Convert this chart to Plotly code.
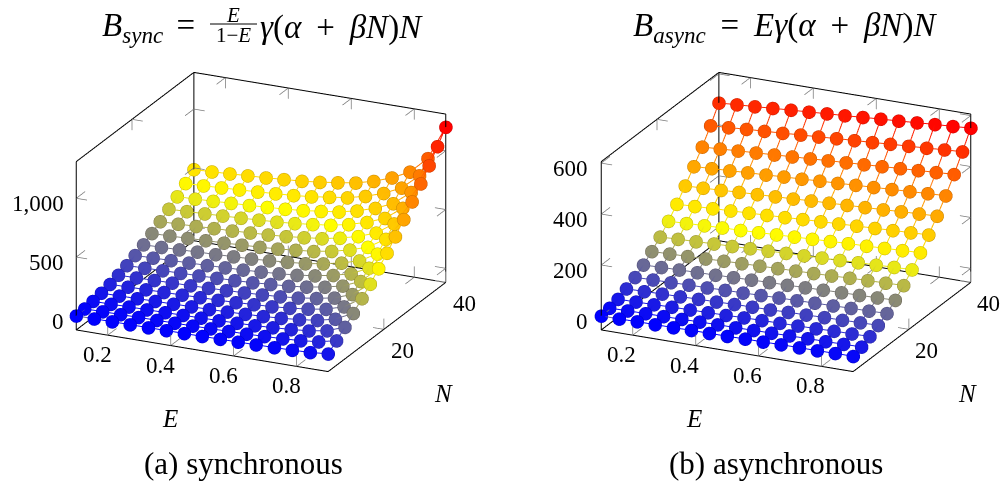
import plotly.graph_objects as go

# ---------- data ----------
E_VALUES = [0.1, 0.157, 0.214, 0.271, 0.329, 0.386, 0.443, 0.5, 0.557, 0.614, 0.671, 0.729, 0.786, 0.843, 0.9]
N_VALUES = [2, 4.7, 7.4, 10.1, 12.9, 15.6, 18.3, 21, 23.7, 26.4, 29.1, 31.9, 34.6, 37.3, 40]

B_SYNC = [
    [0, 0, 1, 1, 1, 2, 2, 3, 4, 5, 7, 9, 12, 18, 31],
    [6, 7, 8, 9, 10, 11, 12, 14, 17, 19, 24, 30, 39, 55, 89],
    [16, 17, 19, 20, 22, 24, 26, 29, 33, 37, 45, 55, 69, 95, 150],
    [32, 33, 36, 38, 40, 43, 45, 49, 55, 61, 71, 85, 104, 140, 214],
    [51, 53, 56, 58, 61, 65, 68, 73, 81, 88, 101, 119, 143, 189, 284],
    [75, 77, 81, 84, 87, 91, 96, 102, 110, 119, 134, 156, 185, 240, 353],
    [103, 106, 110, 113, 117, 122, 127, 134, 145, 155, 173, 198, 233, 297, 431],
    [135, 138, 142, 147, 151, 157, 163, 171, 182, 194, 215, 244, 283, 356, 509],
    [172, 175, 180, 186, 190, 197, 203, 213, 226, 239, 263, 295, 339, 422, 595],
    [214, 218, 223, 229, 234, 242, 249, 259, 274, 289, 315, 352, 401, 494, 687],
    [261, 265, 271, 278, 283, 292, 300, 311, 327, 344, 373, 413, 468, 571, 784],
    [311, 316, 322, 329, 336, 345, 353, 366, 383, 402, 433, 477, 537, 648, 881],
    [363, 368, 375, 383, 390, 399, 409, 422, 441, 461, 495, 543, 608, 729, 981],
    [422, 427, 435, 443, 451, 461, 471, 486, 507, 528, 565, 616, 687, 817, 1090],
    [486, 492, 500, 509, 517, 528, 539, 555, 577, 600, 639, 694, 769, 909, 1201],
]
B_ASYNC = [
    [0, 0, 1, 1, 1, 2, 2, 2, 3, 3, 4, 4, 4, 5, 5],
    [6, 7, 8, 8, 9, 10, 11, 11, 12, 13, 14, 15, 15, 16, 17],
    [16, 17, 18, 20, 21, 22, 23, 25, 26, 27, 28, 29, 31, 32, 33],
    [32, 33, 35, 36, 38, 39, 41, 42, 43, 45, 46, 48, 49, 51, 52],
    [51, 53, 54, 56, 57, 59, 60, 62, 64, 65, 67, 68, 70, 71, 73],
    [75, 77, 79, 80, 82, 84, 86, 88, 89, 91, 93, 95, 96, 98, 100],
    [103, 105, 107, 109, 112, 114, 116, 118, 120, 122, 124, 127, 129, 131, 133],
    [135, 138, 140, 143, 145, 148, 150, 153, 155, 158, 160, 163, 165, 168, 170],
    [172, 175, 178, 181, 183, 186, 189, 192, 195, 198, 201, 203, 206, 209, 212],
    [214, 217, 220, 223, 226, 229, 232, 236, 239, 242, 245, 248, 251, 254, 257],
    [261, 264, 267, 271, 274, 277, 280, 284, 287, 290, 293, 296, 300, 303, 306],
    [311, 315, 318, 322, 325, 329, 332, 336, 339, 343, 346, 350, 353, 357, 360],
    [363, 367, 371, 375, 379, 383, 387, 391, 395, 399, 403, 407, 411, 415, 419],
    [422, 426, 431, 435, 439, 444, 448, 453, 457, 461, 466, 470, 474, 479, 483],
    [486, 491, 495, 500, 505, 509, 514, 518, 523, 528, 532, 537, 542, 546, 551],
]

E_TICKS = [0.2, 0.4, 0.6, 0.8]
N_TICKS = [20, 40]
Z_TICKS_SYNC = [0, 500, 1000]
Z_LABELS_SYNC = ["0", "500", "1,000"]
Z_TICKS_ASYNC = [0, 200, 400, 600]
Z_LABELS_ASYNC = ["0", "200", "400", "600"]
E_RANGE = [0.1, 0.9]
N_RANGE = [2, 40]
Z_RANGE_SYNC = [-120, 1312]
Z_RANGE_ASYNC = [-55, 606]

# ---------- style ----------
W, H = 1006, 482
SERIF = "Liberation Serif"
HOT = [[0, "rgb(0,0,255)"], [1 / 3, "rgb(255,255,0)"], [2 / 3, "rgb(255,128,0)"], [1, "rgb(255,0,0)"]]
HOT_EDGE = [[0, "rgb(0,0,200)"], [1 / 3, "rgb(200,190,0)"], [2 / 3, "rgb(200,100,0)"], [1, "rgb(200,0,0)"]]
CAM_DIST = 10.0
EYE = (0.3955, -0.847, 0.354)
PAD = 0.02
ASPECT = dict(x=1.39 * (1 + 2 * PAD), y=1.39 * (1 + 2 * PAD), z=0.90 * (1 + 2 * PAD))
MARKER_SIZE = 7.6
TICK_E, TICK_N, TICK_Z = 0.043, 0.075, 0.064


def px(x):
    return x / W


def py(y):
    return 1 - y / H


def padded(r):
    span = r[1] - r[0]
    return [r[0] - PAD * span, r[1] + PAD * span]


def segs(pairs):
    xs, ys, zs = [], [], []
    for a, b in pairs:
        xs += [a[0], b[0], None]
        ys += [a[1], b[1], None]
        zs += [a[2], b[2], None]
    return xs, ys, zs


def line_trace(pairs, color, width, scene):
    xs, ys, zs = segs(pairs)
    return go.Scatter3d(x=xs, y=ys, z=zs, mode="lines", line=dict(color=color, width=width),
                        hoverinfo="skip", showlegend=False, scene=scene)


def panel(values, zrange, zticks, zlabels, scene):
    traces = []
    e0, e1 = E_RANGE
    n0, n1 = N_RANGE
    z0, z1 = zrange
    de = (e1 - e0) * TICK_E
    dn = (n1 - n0) * TICK_N
    dz = (z1 - z0) * TICK_Z
    box = [
        ((e0, n0, z0), (e1, n0, z0)), ((e1, n0, z0), (e1, n1, z0)),
        ((e0, n0, z0), (e0, n1, z0)), ((e0, n1, z0), (e1, n1, z0)),
        ((e0, n0, z0), (e0, n0, z1)), ((e0, n1, z0), (e0, n1, z1)), ((e1, n1, z0), (e1, n1, z1)),
        ((e0, n0, z1), (e0, n1, z1)), ((e0, n1, z1), (e1, n1, z1)),
    ]
    ticks = []
    for v in E_TICKS:
        ticks += [((v, n0, z0), (v, n0 + dn, z0)), ((v, n0, z0), (v, n0, z0 + dz)),
                  ((v, n1, z0), (v, n1 - dn, z0)), ((v, n1, z0), (v, n1, z0 + dz)),
                  ((v, n1, z1), (v, n1 - dn, z1)), ((v, n1, z1), (v, n1, z1 - dz))]
    for v in N_TICKS:
        ticks += [((e1, v, z0), (e1 - de, v, z0)), ((e1, v, z0), (e1, v, z0 + dz)),
                  ((e0, v, z0), (e0 + de, v, z0)), ((e0, v, z0), (e0, v, z0 + dz)),
                  ((e0, v, z1), (e0 + de, v, z1)), ((e0, v, z1), (e0, v, z1 - dz))]
    for v in zticks:
        ticks += [((e0, n0, v), (e0 + de, n0, v)), ((e0, n0, v), (e0, n0 + dn, v)),
                  ((e0, n1, v), (e0 + de, n1, v)), ((e0, n1, v), (e0, n1 - dn, v)),
                  ((e1, n1, v), (e1 - de, n1, v)), ((e1, n1, v), (e1, n1 - dn, v))]
    traces.append(line_trace(ticks, "rgb(120,120,120)", 1.5, scene))
    traces.append(line_trace(box, "black", 2, scene))

    zmax = max(max(r) for r in values)
    common = dict(cmin=0, cmax=zmax, colorscale=HOT)
    for i, row in enumerate(values):
        traces.append(go.Scatter3d(x=E_VALUES, y=[N_VALUES[i]] * len(E_VALUES), z=row, mode="lines",
                                   line=dict(color=row, width=2, **common),
                                   hoverinfo="skip", showlegend=False, scene=scene))
    for j, e in enumerate(E_VALUES):
        col = [r[j] for r in values]
        traces.append(go.Scatter3d(x=[e] * len(N_VALUES), y=N_VALUES, z=col, mode="lines",
                                   line=dict(color=col, width=2, **common),
                                   hoverinfo="skip", showlegend=False, scene=scene))
    xs, ys, zs = [], [], []
    for i, row in enumerate(values):
        for j, v in enumerate(row):
            xs.append(E_VALUES[j])
            ys.append(N_VALUES[i])
            zs.append(v)
    traces.append(go.Scatter3d(x=xs, y=ys, z=zs, mode="markers",
                               marker=dict(size=MARKER_SIZE, color=zs, opacity=1, **common,
                                           line=dict(width=2, color=zs, cmin=0, cmax=zmax, colorscale=HOT_EDGE)),
                               hoverinfo="skip", showlegend=False, scene=scene))

    font = dict(family=SERIF, size=23, color="black")
    notes = []
    for v in E_TICKS:
        notes.append(dict(x=v, y=n0, z=z0, text=f"{v:.1f}", showarrow=False, font=font,
                          xanchor="center", yanchor="middle", xshift=-11, yshift=-20))
    for v in N_TICKS:
        notes.append(dict(x=e1, y=v, z=z0, text=str(v), showarrow=False, font=font,
                          xanchor="center", yanchor="middle", xshift=18, yshift=-22))
    for v, t in zip(zticks, zlabels):
        notes.append(dict(x=e0, y=n0, z=v, text=t, showarrow=False, font=font,
                          xanchor="right", yanchor="middle", xshift=-11, yshift=-6))
    off = dict(visible=False, showbackground=False, showgrid=False, zeroline=False, showline=False,
               showticklabels=False, showspikes=False, title="")
    s = sum(c * c for c in EYE) ** 0.5
    eye = {k: c / s * CAM_DIST for k, c in zip("xyz", EYE)}
    layout = dict(
        xaxis=dict(range=padded(E_RANGE), **off), yaxis=dict(range=padded(N_RANGE), **off),
        zaxis=dict(range=padded(zrange), **off),
        aspectmode="manual", aspectratio=ASPECT, bgcolor="white",
        camera=dict(eye=eye, up=dict(x=0, y=0, z=1), center=dict(x=0, y=0, z=0),
                    projection=dict(type="orthographic")),
        annotations=notes,
    )
    return traces, layout


fig = go.Figure()
t1, l1 = panel(B_SYNC, Z_RANGE_SYNC, Z_TICKS_SYNC, Z_LABELS_SYNC, "scene")
t2, l2 = panel(B_ASYNC, Z_RANGE_ASYNC, Z_TICKS_ASYNC, Z_LABELS_ASYNC, "scene2")
fig.add_traces(t1 + t2)
l1["domain"] = dict(x=[px(41.4), px(481.4)], y=[py(421.5), py(21.5)])
l2["domain"] = dict(x=[px(565.7), px(1005.7)], y=[py(421.5), py(21.5)])

TS = "\u2009"


def note(x, y, text, size=33, anchor="center"):
    return dict(xref="paper", yref="paper", x=px(x), y=py(y), text=text, showarrow=False,
                xanchor=anchor, yanchor="middle", font=dict(family=SERIF, size=size, color="black"))


annotations = [
    note(197, 27, f"<i>B<sub>sync</sub></i>{TS}{TS}=", anchor="right"),
    note(233, 15, "<i>E</i>", size=21),
    note(233, 35, "1−<i>E</i>", size=21),
    note(258, 27, f"<i>γ</i>(<i>α</i>{TS} + {TS}<i>βN</i>)<i>N</i>", anchor="left"),
    note(785, 27, f"<i>B<sub>async</sub></i>{TS} = {TS}<i>Eγ</i>(<i>α</i>{TS} + {TS}<i>βN</i>)<i>N</i>"),
    note(170, 418, "<i>E</i>", size=25),
    note(443, 393, "<i>N</i>", size=25),
    note(694, 418, "<i>E</i>", size=25),
    note(967, 393, "<i>N</i>", size=25),
    note(243, 463, "(a) synchronous", size=31),
    note(776, 463, "(b) asynchronous", size=31),
]

fig.update_layout(
    width=W, height=H, autosize=False, margin=dict(l=0, r=0, t=0, b=0, pad=0),
    paper_bgcolor="white", showlegend=False, scene=l1, scene2=l2, annotations=annotations,
    shapes=[dict(type="line", xref="paper", yref="paper", x0=px(210), x1=px(257), y0=py(24), y1=py(24),
                 line=dict(color="black", width=1))],
)
fig.write_html("out.html", config=dict(displayModeBar=False, staticPlot=False),
               post_script="document.body.style.margin='0';document.body.style.overflow='hidden';")
